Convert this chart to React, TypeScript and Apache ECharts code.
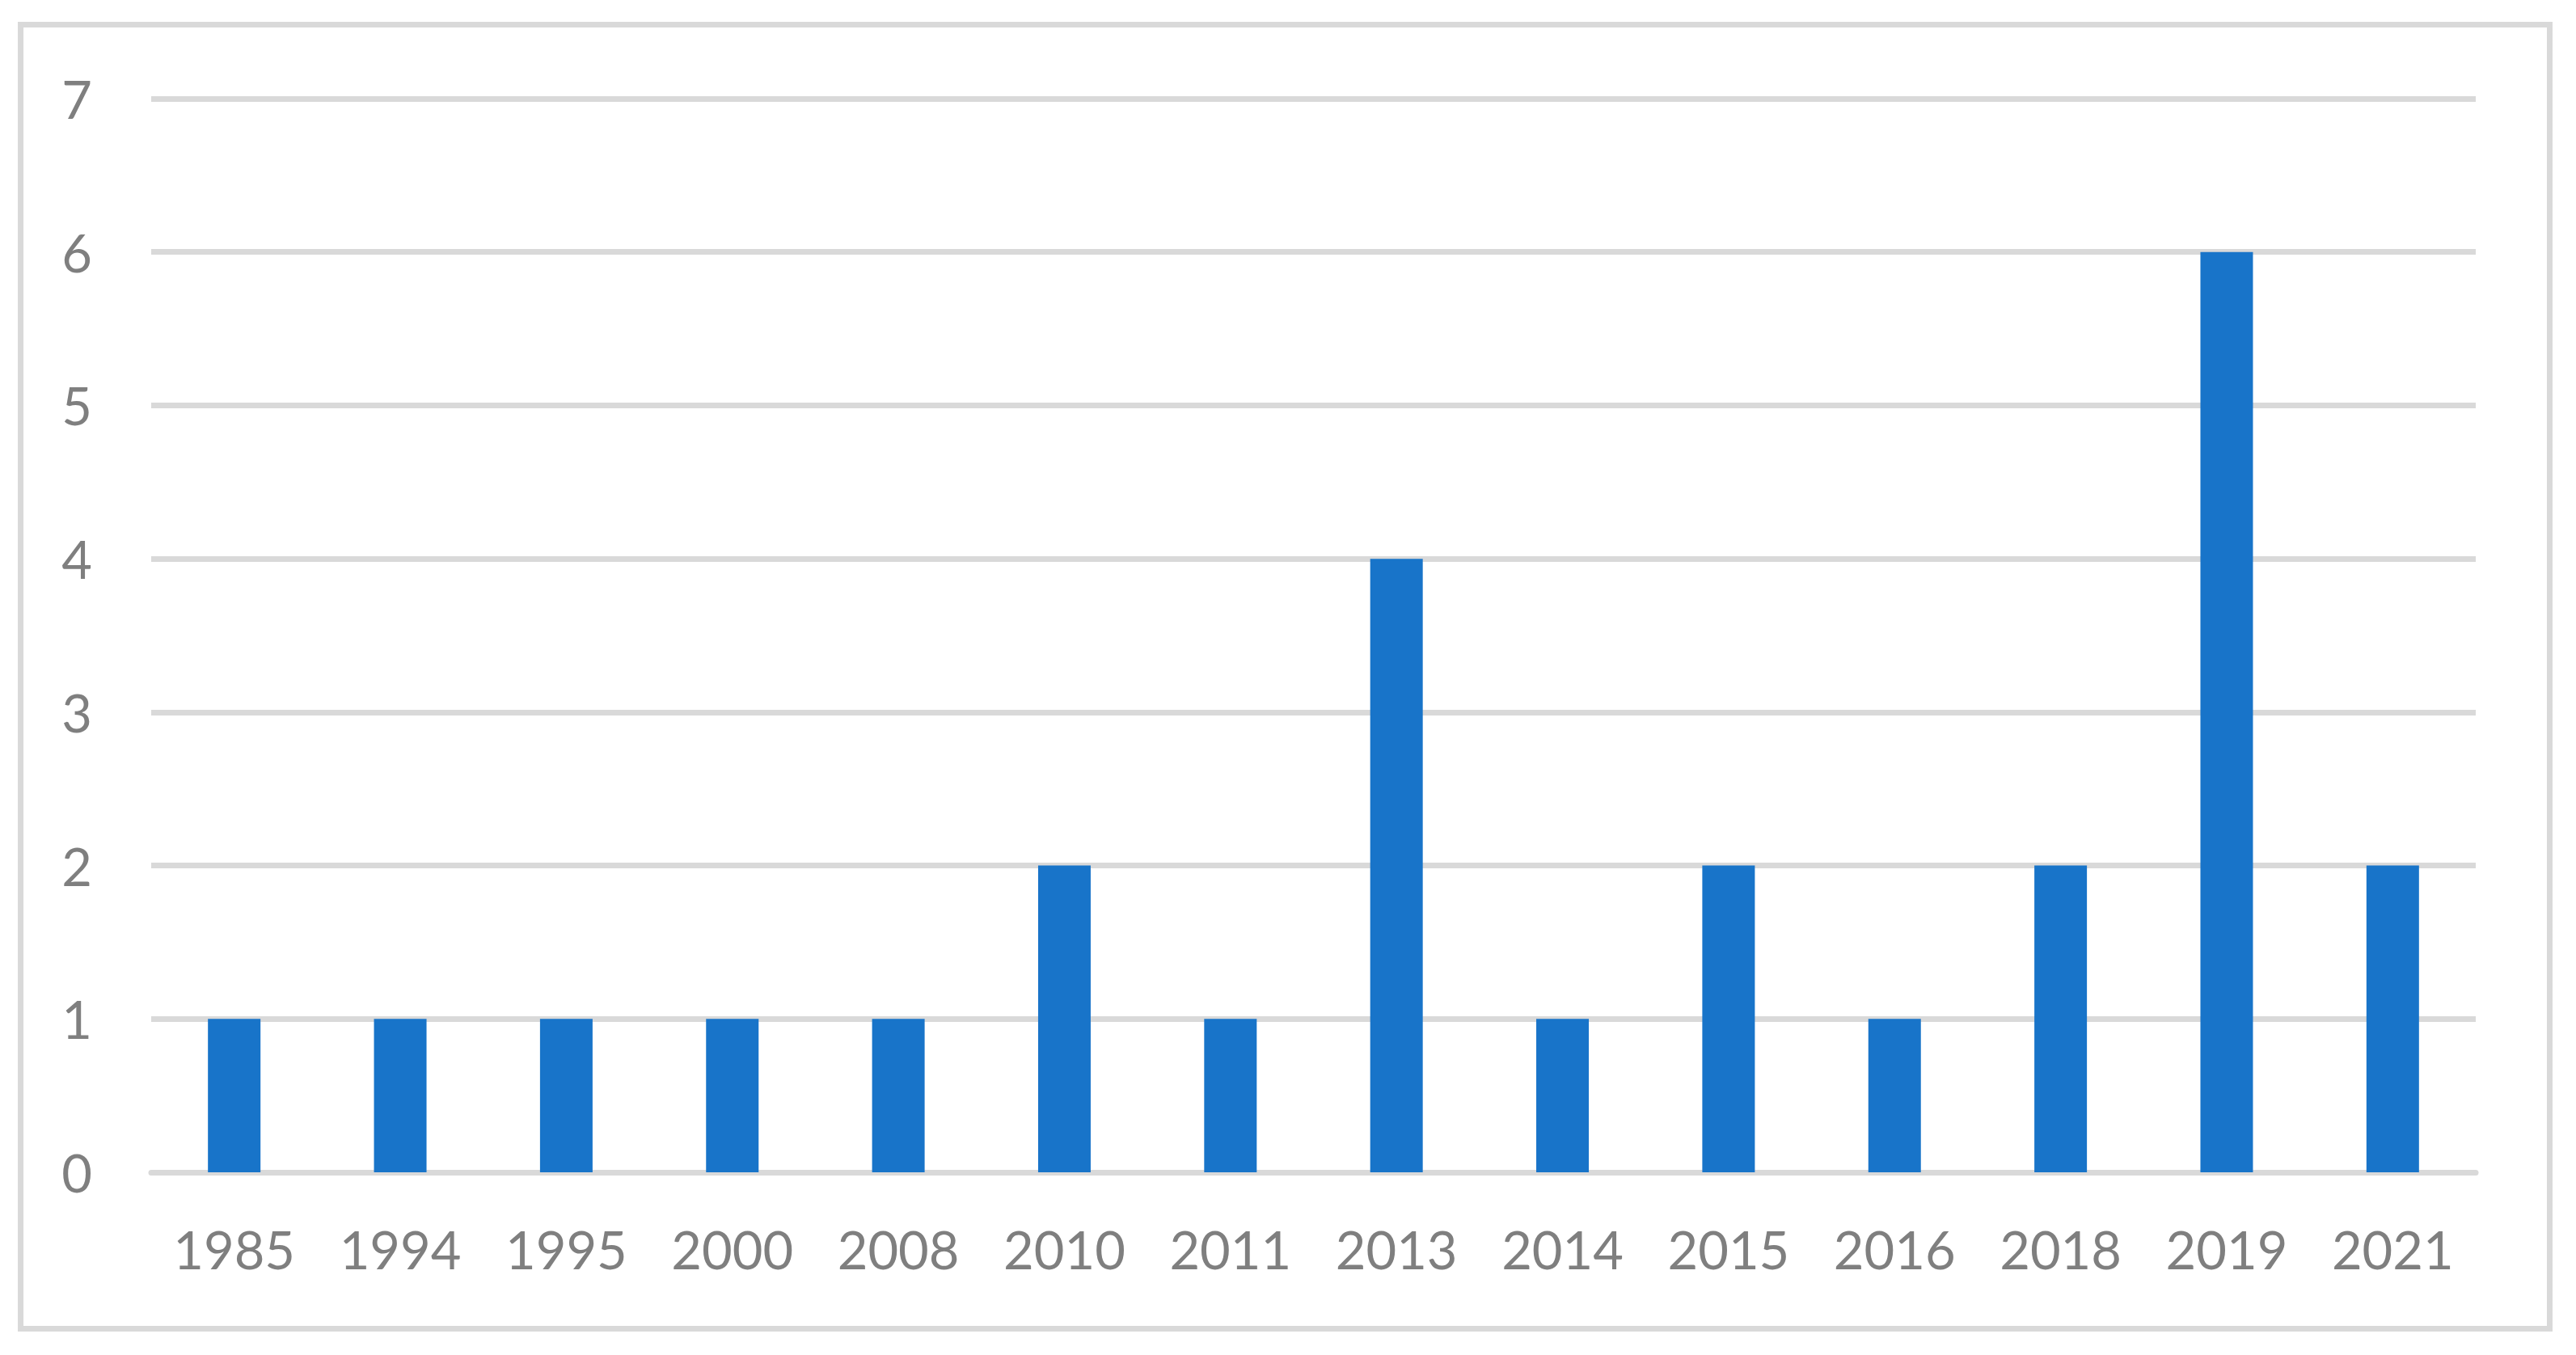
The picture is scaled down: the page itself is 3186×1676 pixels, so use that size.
import React, { useEffect, useRef } from "react";
import * as echarts from "echarts";

const categories = ["1985", "1994", "1995", "2000", "2008", "2010", "2011", "2013", "2014", "2015", "2016", "2018", "2019", "2021"];
const values = [1, 1, 1, 1, 1, 2, 1, 4, 1, 2, 1, 2, 6, 2];
const yTicks = [0, 1, 2, 3, 4, 5, 6, 7];

export default function App() {
  const ref = useRef<HTMLDivElement>(null);
  useEffect(() => {
    if (!ref.current) return;
    const chart = echarts.init(ref.current, undefined, { renderer: "svg" });
    chart.setOption({
      animation: false,
      backgroundColor: "#ffffff",
      graphic: [
        {
          type: "rect",
          shape: { x: 25.5, y: 30.5, width: 3128, height: 1613 },
          style: { fill: "none", stroke: "#d9d9d9", lineWidth: 7 },
          silent: true,
        },
      ],
      grid: { left: 187, right: 3186 - 3062, top: 122, bottom: 1676 - 1450, containLabel: false },
      xAxis: {
        type: "category",
        data: categories,
        axisLine: { show: true, lineStyle: { color: "#d9d9d9", width: 7 } },
        axisTick: { show: false },
        axisLabel: { color: "#7f7f7f", fontFamily: "Lato", fontSize: 65, margin: 62 },
      },
      yAxis: {
        type: "value",
        min: yTicks[0],
        max: yTicks[yTicks.length - 1],
        interval: 1,
        axisLine: { show: false },
        axisTick: { show: false },
        splitLine: { show: true, lineStyle: { color: "#d9d9d9", width: 7 } },
        axisLabel: { color: "#7f7f7f", fontFamily: "Lato", fontSize: 65, margin: 73 },
      },
      series: [
        {
          type: "bar",
          data: values,
          barWidth: 65,
          itemStyle: { color: "#1874c9" },
          z: 1,
        },
      ],
    });
    return () => chart.dispose();
  }, []);
  return (
    <div
      ref={ref}
      style={{ position: "absolute", left: 0, top: 0, width: 3186, height: 1676 }}
    />
  );
}
